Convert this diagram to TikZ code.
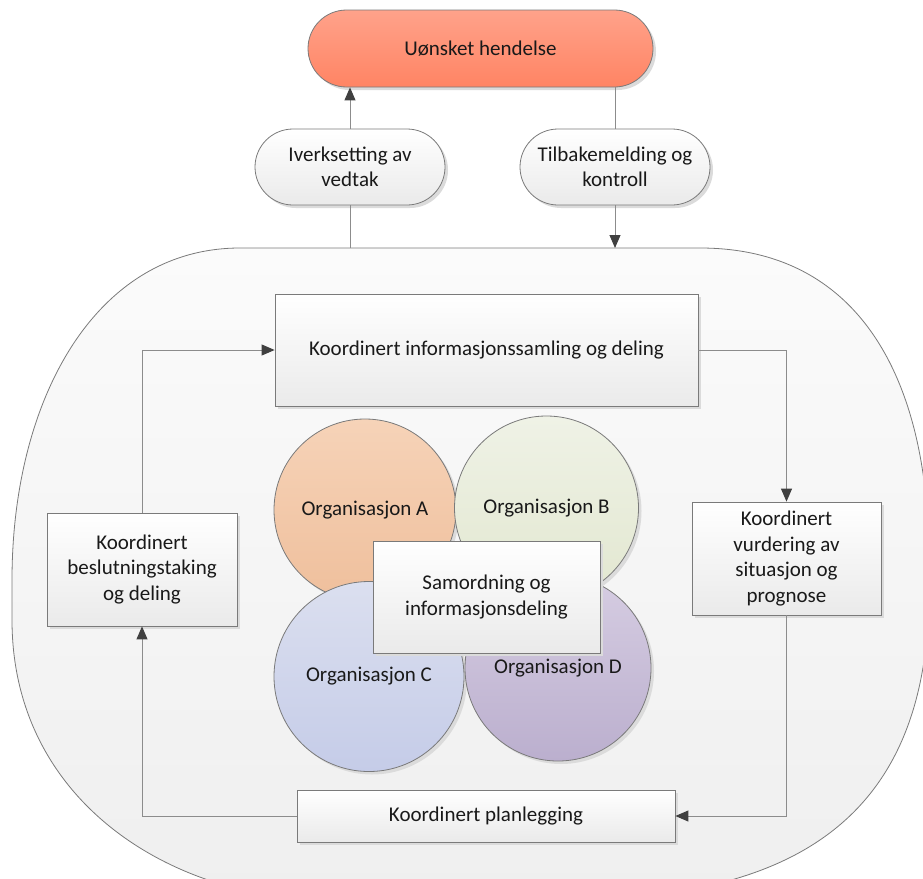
\documentclass[tikz,border=0pt]{standalone}
\usepackage{fontspec}
\setmainfont{Carlito}
\usetikzlibrary{shapes.misc,arrows.meta,shadows}

\definecolor{edge}{HTML}{7A7A7A}
\definecolor{linegray}{HTML}{8C8C8C}
\definecolor{tipgray}{HTML}{404040}
\definecolor{boxbot}{HTML}{EAEAEA}
\definecolor{outtop}{HTML}{FBFBFB}
\definecolor{outbot}{HTML}{EFEFEF}
\definecolor{alerttop}{HTML}{FFA28A}
\definecolor{alertbot}{HTML}{FF8464}
\definecolor{orgAtop}{HTML}{F6D3B8}
\definecolor{orgAbot}{HTML}{EFBF9C}
\definecolor{orgBtop}{HTML}{EFF2E6}
\definecolor{orgBbot}{HTML}{E2E7D0}
\definecolor{orgCtop}{HTML}{DBDFEF}
\definecolor{orgCbot}{HTML}{C5CCE8}
\definecolor{orgDtop}{HTML}{D6CDE2}
\definecolor{orgDbot}{HTML}{BBAFCE}

\begin{document}
\begin{tikzpicture}[x=1pt,y=-1pt,
  every node/.style={font=\fontsize{21}{25.5}\selectfont, text=black!90,
    align=center, inner sep=0pt},
  softshadow/.style={drop shadow={shadow xshift=3pt, shadow yshift=-3pt,
    fill=black!14, opacity=1}},
  pill/.style={rounded rectangle, draw=edge, line width=0.8pt,
    top color=white, bottom color=boxbot, softshadow},
  box/.style={rectangle, draw=edge, line width=0.8pt,
    top color=white, bottom color=boxbot, softshadow},
  org/.style={circle, draw=edge, line width=0.8pt, softshadow},
  link/.style={draw=linegray, line width=1pt},
  tip/.style={-{Triangle[length=13pt,width=11pt,color=tipgray]}}
]
\useasboundingbox (0,0) rectangle (923,878);
\clip (0,0) rectangle (923,878);

% outer rounded frame around the coordination cycle
\draw[draw=edge, line width=0.8pt, top color=outtop, bottom color=outbot]
  (240,248) -- (700,248)
  .. controls (860,248) and (929,380) .. (929,560)
  -- (929,590)
  .. controls (929,830) and (780,900) .. (560,900)
  -- (330,900)
  .. controls (170,900) and (12,800) .. (12,620)
  -- (12,580)
  .. controls (12,400) and (95,248) .. cycle;

% event and the two feedback nodes
\node[pill, top color=alerttop, bottom color=alertbot,
  minimum width=345pt, minimum height=77pt] (evt) at (480.5,48.5) {Uønsket hendelse};
\node[pill, minimum width=190pt, minimum height=76pt] (iver) at (350,167)
  {Iverksetting av\\vedtak};
\node[pill, minimum width=190pt, minimum height=76pt] (tilb) at (615,167)
  {Tilbakemelding og\\kontroll};

% the cycle steps
\node[box, minimum width=423pt, minimum height=112pt] (info) at (486.5,350)
  {Koordinert informasjonssamling og deling};
\node[box, minimum width=190pt, minimum height=113pt] (besl) at (142,569.5)
  {Koordinert\\beslutningstaking\\og deling};
\node[box, minimum width=189pt, minimum height=113pt] (vurd) at (786.5,558.5)
  {Koordinert\\vurdering av\\situasjon og\\prognose};
\node[box, minimum width=378pt, minimum height=52pt] (plan) at (486,816)
  {Koordinert planlegging};

% organisations
\node[org, minimum size=182pt, top color=orgAtop, bottom color=orgAbot] (orgA) at (365,510) {Organisasjon A};
\node[org, minimum size=184pt, top color=orgBtop, bottom color=orgBbot] (orgB) at (546.5,508) {Organisasjon B};
\node[org, minimum size=190pt, top color=orgCtop, bottom color=orgCbot] (orgC) at (369,676.5) {Organisasjon C};
\node[org, minimum size=186pt, top color=orgDtop, bottom color=orgDbot] (orgD) at (558,668) {\raisebox{4pt}{Organisasjon D}};

\node[box, minimum width=227pt, minimum height=112pt] (samo) at (486.5,597)
  {Samordning og\\informasjonsdeling};

% connectors
\coordinate (frameL) at (350,248);
\coordinate (frameR) at (615,248);
\draw[link] (frameL) -- (iver.south);
\draw[link, tip] (iver.north) -- (iver.north |- evt.south);
\draw[link] (tilb.north |- evt.south) -- (tilb.north);
\draw[link, tip] (tilb.south) -- (frameR);

\draw[link, tip] (info.east) -| (vurd.north);
\draw[link, tip] (vurd.south) |- (plan.east);
\draw[link, tip] (plan.west) -| (besl.south);
\draw[link, tip] (besl.north) |- (info.west);
\end{tikzpicture}
\end{document}
